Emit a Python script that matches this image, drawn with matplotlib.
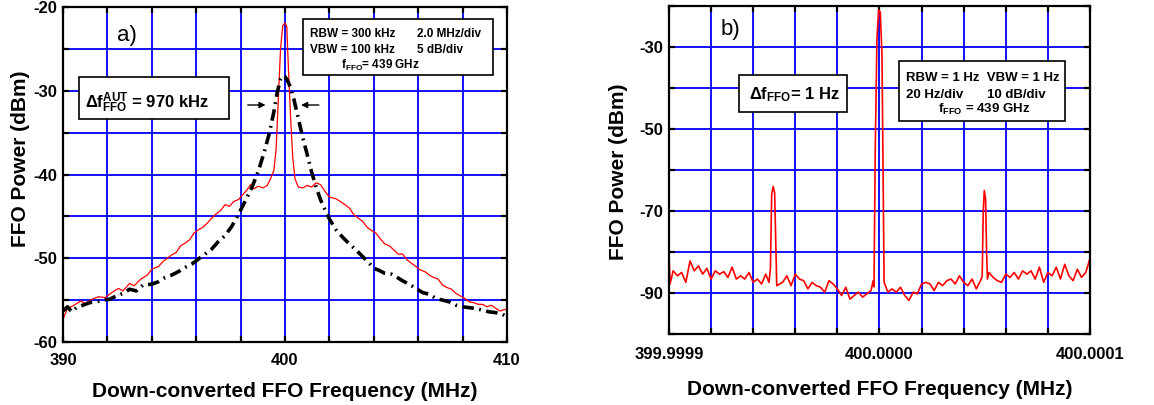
import matplotlib
matplotlib.use('Agg')
import matplotlib.pyplot as plt
from matplotlib.patches import Rectangle

plt.rcParams['font.family'] = ['Liberation Sans', 'DejaVu Sans']
plt.rcParams['font.weight'] = 'bold'
plt.rcParams['mathtext.fontset'] = 'custom'
plt.rcParams['mathtext.rm'] = 'Liberation Sans'
plt.rcParams['mathtext.bf'] = 'Liberation Sans:bold'
plt.rcParams['mathtext.it'] = 'Liberation Sans:italic'

# ---------------- data panel a ----------------
a_red_x = [390.0, 390.2, 390.5, 390.8, 391.0, 391.3, 391.6, 391.9, 392.2, 392.5, 392.7, 393.0,
           393.2, 393.5, 393.8, 394.0, 394.3, 394.5, 394.7, 394.9, 395.1, 395.3, 395.5, 395.7,
           395.9, 396.1, 396.3, 396.5, 396.7, 396.9, 397.1, 397.3, 397.5, 397.7, 397.9, 398.1,
           398.3, 398.45, 398.6, 398.8, 399.0, 399.2, 399.35, 399.5, 399.6, 399.7, 399.8, 399.9,
           400.0, 400.08, 400.15, 400.25, 400.35, 400.45, 400.6, 400.8, 401.0, 401.2, 401.4,
           401.6, 401.8, 402.0, 402.3, 402.6, 402.9, 403.1, 403.3, 403.5, 403.7, 403.9, 404.1,
           404.3, 404.5, 404.7, 404.9, 405.1, 405.3, 405.5, 405.7, 405.9, 406.1, 406.3, 406.5,
           406.7, 406.9, 407.1, 407.3, 407.5, 407.7, 407.9, 408.1, 408.3, 408.5, 408.7, 408.9,
           409.1, 409.3, 409.5, 409.7, 409.9, 410.0]
a_red_y = [-57.3, -56.0, -55.6, -55.1, -55.4, -54.9, -54.6, -54.7, -54.1, -53.6, -53.9, -53.0,
           -53.3, -52.5, -52.0, -51.3, -51.0, -50.4, -50.0, -49.6, -49.3, -48.5, -48.2, -47.8,
           -47.0, -46.6, -46.3, -45.8, -45.2, -44.7, -44.3, -43.6, -43.8, -43.2, -43.0, -42.4,
           -41.8, -41.2, -41.7, -41.4, -41.6, -41.3, -40.5, -39.5, -37.0, -31.0, -25.0, -22.2,
           -21.9, -22.3, -27.0, -33.0, -38.0, -40.5, -41.5, -41.6, -41.3, -41.5, -41.0,
           -41.2, -42.0, -42.7, -42.9, -43.4, -44.0, -44.8, -45.2, -45.6, -46.3, -46.7, -47.0,
           -47.7, -48.3, -48.5, -49.0, -49.5, -49.5, -50.2, -50.6, -51.0, -51.4, -51.6, -52.0,
           -52.3, -52.5, -53.2, -53.5, -53.7, -54.2, -54.5, -54.8, -55.2, -55.3, -55.5, -55.5,
           -55.8, -55.6, -56.0, -56.3, -56.1, -56.2]

a_blk_x = [390.0, 390.2, 390.4, 390.6, 390.9, 391.2, 391.5, 391.8, 392.1, 392.4, 392.7, 393.0,
           393.3, 393.6, 394.0, 394.3, 394.6, 394.9, 395.2, 395.5, 395.8, 396.1, 396.4, 396.7,
           397.0, 397.3, 397.6, 397.9, 398.2, 398.5, 398.8, 399.1, 399.3, 399.5, 399.65, 399.8,
           399.9, 400.0, 400.1, 400.25, 400.4, 400.6, 400.8, 401.0, 401.2, 401.4, 401.6, 401.8,
           402.0, 402.3, 402.6, 402.9, 403.2, 403.5, 403.8, 404.0, 404.2, 404.5, 404.8, 405.0,
           405.3, 405.6, 405.9, 406.2, 406.5, 406.8, 407.1, 407.4, 407.7, 408.0, 408.3, 408.6,
           408.9, 409.2, 409.5, 409.8, 410.0]
a_blk_y = [-56.3, -55.8, -56.4, -55.9, -55.6, -55.3, -55.2, -55.0, -54.9, -54.5, -54.2, -53.7,
           -53.9, -53.2, -53.1, -52.8, -52.3, -52.0, -51.6, -51.1, -50.7, -50.1, -49.5, -48.9,
           -48.0, -47.3, -46.2, -44.8, -43.2, -41.6, -39.6, -37.0, -35.0, -32.5, -30.2, -28.6,
           -28.2, -28.3, -28.7, -29.6, -31.0, -33.3, -35.6, -37.6, -39.7, -41.5, -43.0, -44.2,
           -45.3, -46.6, -47.5, -48.3, -49.0, -49.8, -50.6, -51.2, -51.4, -51.8, -51.9, -52.2,
           -52.7, -53.1, -53.6, -54.1, -54.3, -54.8, -55.0, -55.2, -55.6, -55.8, -55.9, -56.0,
           -56.2, -56.4, -56.5, -56.7, -57.0]

a_xgrid = [390, 392, 394, 396, 398, 400, 402, 404, 406, 408, 410]
a_xlabels = ['390', '', '', '', '', '400', '', '', '', '', '410']
a_ygrid = [-60, -55, -50, -45, -40, -35, -30, -25, -20]
a_ylabels = ['-60', '', '-50', '', '-40', '', '-30', '', '-20']

# ---------------- data panel b (offset from 400 MHz in Hz) ----------------
b_x = [-100, -99.5, -98, -96, -94, -92, -90, -88, -86, -84, -82, -80, -78, -76, -74, -72, -70,
       -68, -66, -64, -62, -60, -58, -56, -54, -52.5, -51.8, -51.2, -50.5, -49.8, -49.2, -48.8,
       -46, -44, -42, -40, -38, -36, -34, -32, -30, -28, -26, -24, -22, -20, -18, -16, -14,
       -12, -10, -8, -6, -4, -3, -2.6, -2.0, -1.2, -0.4, 0.4, 1.2, 1.8, 2.2, 4, 6, 8, 10, 12,
       14, 16, 18, 20, 22, 24, 26, 28, 30, 32, 34, 36, 38, 40, 42, 44, 46, 48, 48.8, 49.3,
       49.8, 50.4, 50.9, 51.3, 52, 54, 56, 58, 60, 62, 64, 66, 68, 70, 72, 74, 76, 78, 80, 82,
       84, 86, 88, 90, 92, 94, 96, 98, 100]
b_y = [-80.5, -87.8, -84.6, -85.8, -85.0, -87.4, -82.2, -84.6, -83.4, -85.4, -84.0, -86.6,
       -84.6, -85.4, -84.8, -86.2, -83.7, -86.6, -85.8, -86.6, -85.0, -87.4, -86.6, -87.8,
       -85.4, -87.4, -84.0, -66.0, -64.0, -65.5, -79.0, -88.2,
       -87.4, -85.8, -88.2, -85.4, -86.6, -87.0, -89.0, -87.4, -88.2, -88.6, -89.8, -87.0,
       -87.8, -89.0, -90.6, -88.6, -91.5, -90.6, -89.8, -91.0, -90.2, -89.4, -87.0, -88.5,
       -55.0, -28.0, -21.0, -21.5, -32.0, -65.0, -87.4, -89.8, -89.0, -89.8, -88.6, -90.6,
       -91.8, -89.8, -90.2, -87.8, -87.4, -87.8, -89.4, -87.4, -88.2, -87.0, -86.6, -87.8,
       -85.8, -87.4, -88.2, -86.6, -89.0, -87.0, -86.0, -70.0, -65.0, -67.0, -80.0, -86.6,
       -85.0, -86.2, -87.0, -87.4, -85.4, -86.2, -85.0, -86.6, -84.6, -85.4, -84.6, -86.6,
       -83.7, -87.4, -85.0, -85.8, -83.7, -86.6, -83.0, -85.8, -87.0, -84.2, -86.2, -85.0,
       -81.6]

b_xgrid = [-100, -80, -60, -40, -20, 0, 20, 40, 60, 80, 100]
b_xlabels = ['399.9999', '', '', '', '', '400.0000', '', '', '', '', '400.0001']
b_ygrid = [-100, -90, -80, -70, -60, -50, -40, -30, -20]
b_ylabels = ['', '-90', '', '-70', '', '-50', '', '-30', '']

BLUE = '#0000ff'

fig = plt.figure(figsize=(11.54, 4.05), dpi=100)
axa = fig.add_axes([0.0546, 0.1556, 0.3847, 0.827])
axb = fig.add_axes([0.5797, 0.1753, 0.3648, 0.81])


def style(ax, xg, xl, yg, yl, xpad, ypad):
    ax.set_xticks(xg)
    ax.set_xticklabels(xl)
    ax.set_yticks(yg)
    ax.set_yticklabels(yl)
    ax.set_xlim(xg[0], xg[-1])
    ax.set_ylim(yg[0], yg[-1])
    ax.set_axisbelow(True)
    ax.grid(True, color=BLUE, lw=1.3)
    ax.tick_params(direction='in', length=4, width=1.6, color='black', top=True,
                   right=True, labelsize=12)
    ax.tick_params(axis='x', pad=xpad)
    ax.tick_params(axis='y', pad=ypad)
    for s in ax.spines.values():
        s.set_linewidth(1.6)
        s.set_color('black')
        s.set_zorder(5)


style(axa, a_xgrid, a_xlabels, a_ygrid, a_ylabels, 8, 4)
style(axb, b_xgrid, b_xlabels, b_ygrid, b_ylabels, 9, 4)

axa.plot(a_red_x, a_red_y, color='red', lw=0.9, zorder=3)
axa.plot(a_blk_x, a_blk_y, color='black', lw=2.6, linestyle=(0, (3.2, 1.5, 0.5, 1.5)),
         zorder=3)
axb.plot(b_x, b_y, color='red', lw=1.2, zorder=3)

# labels
axa.set_ylabel('FFO Power (dBm)', fontsize=15, fontweight='bold')
axa.set_xlabel('Down-converted FFO Frequency (MHz)', fontsize=15, fontweight='bold')
axa.yaxis.set_label_coords(-0.074, 0.546)
axa.xaxis.set_label_coords(0.5, -0.119)
axb.set_ylabel('FFO Power (dBm)', fontsize=15, fontweight='bold')
axb.set_xlabel('Down-converted FFO Frequency (MHz)', fontsize=15, fontweight='bold')
axb.yaxis.set_label_coords(-0.097, 0.494)
axb.xaxis.set_label_coords(0.501, -0.140)

# panel a annotations
axa.text(0.144, 0.916, 'a)', transform=axa.transAxes, fontsize=16, fontweight='normal',
         ha='center', va='center')
axa.add_patch(Rectangle((0.541, 0.797), 0.427, 0.167, transform=axa.transAxes,
                        fc='white', ec='black', lw=1.2, zorder=6))
axa.text(0.556, 0.919, 'RBW = 300 kHz', transform=axa.transAxes, fontsize=8.5,
         va='center', ha='left', zorder=7)
axa.text(0.797, 0.919, '2.0 MHz/div', transform=axa.transAxes, fontsize=8.5,
         va='center', ha='left', zorder=7)
axa.text(0.556, 0.872, 'VBW = 100 kHz', transform=axa.transAxes, fontsize=8.5,
         va='center', ha='left', zorder=7)
axa.text(0.797, 0.872, '5 dB/div', transform=axa.transAxes, fontsize=8.5,
         va='center', ha='left', zorder=7)
axa.text(0.716, 0.827, r'$\mathbf{f}_{\mathrm{FFO}}$= 439 GHz', transform=axa.transAxes,
         fontsize=8.5, va='center', ha='center', zorder=7)

axa.add_patch(Rectangle((0.036, 0.666), 0.338, 0.125, transform=axa.transAxes,
                        fc='white', ec='black', lw=1.2, zorder=6))
axa.text(0.05, 0.713, r'$\mathbf{\Delta f}_{\mathrm{FFO}}^{\mathrm{AUT}}$ = 970 kHz',
         transform=axa.transAxes, fontsize=12, va='center', ha='left', zorder=7)

axa.annotate('', xy=(399.25, -31.7), xytext=(398.2, -31.7),
             arrowprops=dict(arrowstyle='-|>', color='black', lw=1.0, mutation_scale=9))
axa.annotate('', xy=(400.6, -31.7), xytext=(401.65, -31.7),
             arrowprops=dict(arrowstyle='-|>', color='black', lw=1.0, mutation_scale=9))

# panel b annotations
axb.text(0.145, 0.927, 'b)', transform=axb.transAxes, fontsize=16, fontweight='normal',
         ha='center', va='center')
axb.add_patch(Rectangle((0.166, 0.677), 0.257, 0.113, transform=axb.transAxes,
                        fc='white', ec='black', lw=1.2, zorder=6))
axb.text(0.19, 0.729, r'$\mathbf{\Delta f}_{\mathrm{FFO}}$= 1 Hz', transform=axb.transAxes,
         fontsize=12, va='center', ha='left', zorder=7)
axb.add_patch(Rectangle((0.546, 0.649), 0.395, 0.183, transform=axb.transAxes,
                        fc='white', ec='black', lw=1.2, zorder=6))
axb.text(0.563, 0.780, 'RBW = 1 Hz  VBW = 1 Hz', transform=axb.transAxes, fontsize=9.5,
         va='center', ha='left', zorder=7)
axb.text(0.563, 0.729, '20 Hz/div', transform=axb.transAxes, fontsize=9.5,
         va='center', ha='left', zorder=7)
axb.text(0.755, 0.729, '10 dB/div', transform=axb.transAxes, fontsize=9.5,
         va='center', ha='left', zorder=7)
axb.text(0.748, 0.683, r'$\mathbf{f}_{\mathrm{FFO}}$ = 439 GHz', transform=axb.transAxes,
         fontsize=9.5, va='center', ha='center', zorder=7)

fig.savefig('out.png', dpi=100)
